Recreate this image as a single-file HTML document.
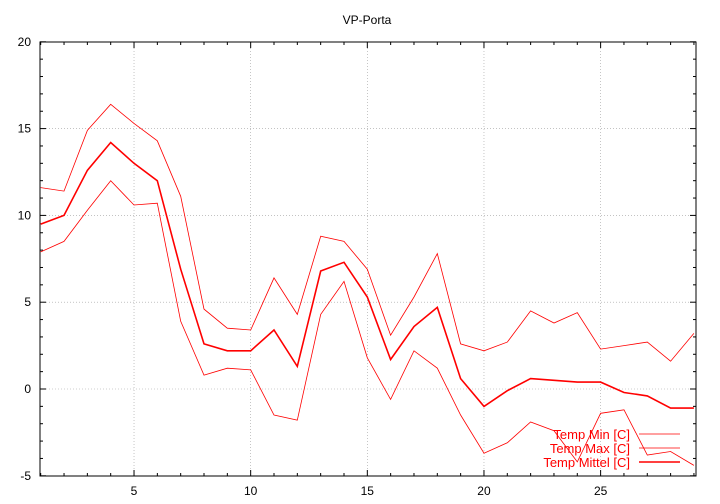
<!DOCTYPE html>
<html><head><meta charset="utf-8"><style>
html,body{margin:0;padding:0;background:#fff;}
svg{display:block;font-family:"Liberation Sans",sans-serif;}
</style></head><body>
<svg id="s" width="720" height="504" viewBox="0 0 720 504" xmlns="http://www.w3.org/2000/svg">
<rect width="720" height="504" fill="#fff"/>
<g id="g"></g>
</svg>
<script>
var X0=40.7,XU=23.33,Y0=389,YU=17.36;
function px(x){return X0+(x-1)*XU;}
function py(y){return Y0-y*YU;}
var s='';
for(var x=5;x<=25;x+=5){s+='<line x1="'+px(x)+'" y1="42" x2="'+px(x)+'" y2="476" stroke="#a0a0a0" stroke-width="0.6" stroke-dasharray="1,2"/>';}
for(var y=-5;y<=20;y+=5){if(y>-5&&y<20)s+='<line x1="40" y1="'+py(y)+'" x2="696" y2="'+py(y)+'" stroke="#a0a0a0" stroke-width="0.6" stroke-dasharray="1,2"/>';}
for(var x=1;x<=29;x++){var L=(x%5==0)?6:3;s+='<line x1="'+px(x)+'" y1="476" x2="'+px(x)+'" y2="'+(476-L)+'" stroke="#000"/><line x1="'+px(x)+'" y1="42" x2="'+px(x)+'" y2="'+(42+L)+'" stroke="#000"/>';}
for(var y=-5;y<=20;y+=5){s+='<line x1="40" y1="'+py(y)+'" x2="46" y2="'+py(y)+'" stroke="#000"/><line x1="696" y1="'+py(y)+'" x2="690" y2="'+py(y)+'" stroke="#000"/>';
s+='<text x="31" y="'+(py(y)+4)+'" font-size="12" text-anchor="end">'+y+'</text>';}
for(var y=-4;y<20;y++){if(y%5)s+='<line x1="40" y1="'+py(y)+'" x2="43" y2="'+py(y)+'" stroke="#000"/><line x1="696" y1="'+py(y)+'" x2="693" y2="'+py(y)+'" stroke="#000"/>';}
for(var x=5;x<=25;x+=5)s+='<text x="'+px(x)+'" y="495" font-size="12" text-anchor="middle">'+x+'</text>';
s+='<rect x="40" y="42" width="656" height="434" fill="none" stroke="#000"/>';
s+='<text x="367" y="24" font-size="12" text-anchor="middle">VP-Porta</text>';
var mx=[11.6,11.4,14.9,16.4,15.3,14.3,11.1,4.6,3.5,3.4,6.4,4.3,8.8,8.5,6.9,3.1,5.3,7.8,2.6,2.2,2.7,4.5,3.8,4.4,2.3,2.5,2.7,1.6,3.2];
var md=[9.5,10,12.6,14.2,13,12,6.9,2.6,2.2,2.2,3.4,1.3,6.8,7.3,5.3,1.7,3.6,4.7,0.6,-1,-0.1,0.6,0.5,0.4,0.4,-0.2,-0.4,-1.1,-1.1];
var mn=[7.9,8.5,10.3,12,10.6,10.7,3.9,0.8,1.2,1.1,-1.5,-1.8,4.3,6.2,1.8,-0.6,2.2,1.2,-1.5,-3.7,-3.1,-1.9,-2.4,-4.2,-1.4,-1.2,-3.8,-3.6,-4.4];
function pl(a,w){var p=a.map(function(v,i){return px(i+1).toFixed(1)+','+py(v).toFixed(1);}).join(' ');return '<polyline points="'+p+'" fill="none" stroke="#f00" stroke-width="'+w+'"/>';}
s+=pl(mn,0.8)+pl(mx,0.8)+pl(md,1.6);
var lg=[['Temp Min [C]',0.8,434],['Temp Max [C]',0.8,448],['Temp Mittel [C]',1.6,462]];
lg.forEach(function(l){s+='<text x="630" y="'+(l[2]+5)+'" font-size="13" fill="#f00" text-anchor="end">'+l[0]+'</text><line x1="639" y1="'+l[2]+'" x2="680" y2="'+l[2]+'" stroke="#f00" stroke-width="'+l[1]+'"/>';});
document.getElementById('g').innerHTML=s;
</script>
</body></html>
